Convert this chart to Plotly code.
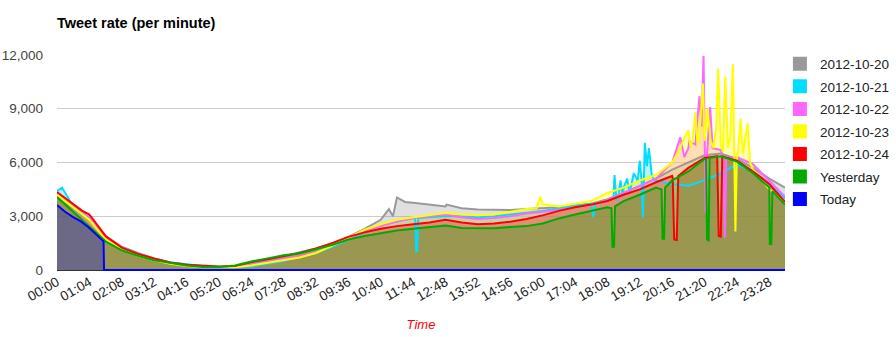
import plotly.graph_objects as go

# ---------------- data (tweets per minute) ----------------
MINUTES = [0, 32, 64, 96, 128, 160, 192, 224, 256, 288, 320, 352, 384, 416, 448,
           480, 512, 544, 576, 608, 640, 672, 704, 736, 768, 800, 832, 864, 896,
           928, 960, 992, 1024, 1056, 1088, 1120, 1152, 1184, 1216, 1248, 1280,
           1312, 1344, 1376, 1408, 1439]

D1020 = [4000, 3400, 2800, 1900, 1300, 950, 650, 420, 300, 200, 170, 200, 350, 550, 750,
         1000, 1200, 1500, 1850, 2300, 2800, 4050, 3750, 3650, 3550, 3450, 3380, 3350, 3350,
         3400, 3450, 3500, 3600, 3700, 3950, 4300, 4700, 5100, 5600, 6000, 6400,
         6500, 6200, 5700, 5100, 4600]
D1020_EXTRA = [(656, 3400), (664, 3000), (688, 3800), (770, 3650)]

D1021 = [4400, 3550, 2850, 1800, 1250, 900, 620, 420, 300, 220, 180, 160, 200, 350, 500,
         750, 950, 1300, 1700, 2100, 2500, 2700, 2900, 2950, 3000, 3000, 2950, 3000, 3100,
         3200, 3300, 3450, 3600, 3700, 3900, 4600, 5800, 5000, 4800, 4700, 5000,
         5400, 5900, 5500, 4800, 4000]
D1021_EXTRA = [(10, 4600), (708, 2850), (710, 1050), (712, 1050), (714, 2900),
               (1060, 2950), (1064, 3700), (1100, 4000), (1102, 5300), (1106, 3900),
               (1110, 4200), (1114, 5000), (1118, 4100), (1127, 5100), (1132, 4300),
               (1140, 5400), (1148, 5000), (1152, 6100), (1156, 4800), (1158, 2950),
               (1160, 5000), (1162, 7100), (1166, 5800), (1170, 6800), (1176, 5200)]

D1022 = [4200, 3600, 3000, 1800, 1200, 850, 600, 400, 250, 170, 150, 170, 300, 450, 600,
         780, 1000, 1350, 1750, 2150, 2450, 2700, 2900, 3000, 3100, 2950, 2850, 2900, 3000,
         3150, 3250, 3350, 3500, 3650, 3900, 4300, 4700, 5100, 6000, 6800, 8000,
         6700, 6300, 5900, 5000, 4100]
D1022_EXTRA = [(1232, 7400), (1240, 6300), (1250, 7200), (1262, 7000), (1266, 8500),
               (1270, 9700), (1274, 8000), (1278, 11950), (1282, 3200), (1285, 6500),
               (1291, 9100), (1296, 6800), (1317, 6300), (1320, 1800), (1323, 6200)]

D1023 = [4200, 3500, 2800, 1700, 1150, 800, 550, 350, 220, 150, 130, 150, 250, 400, 550,
         700, 950, 1350, 1800, 2250, 2550, 2800, 2950, 3050, 3180, 3100, 3050, 3100, 3250,
         3400, 3700, 3550, 3700, 3850, 4300, 4600, 5000, 5300, 6000, 7800, 7200,
         7000, 6500, 5600, 4500, 3800]
D1023_EXTRA = [(948, 3450), (955, 4100), (962, 3650), (1232, 6800), (1240, 7400),
               (1252, 6900), (1256, 7200), (1262, 8800), (1266, 7000), (1270, 7600),
               (1277, 10400), (1286, 9000), (1292, 7200), (1298, 6800), (1303, 8000),
               (1307, 11250), (1316, 6600), (1321, 10800), (1326, 6800), (1331, 7500),
               (1336, 11500), (1339, 6000), (1341, 2150), (1346, 6500), (1351, 8450),
               (1356, 6500), (1365, 8200), (1370, 6000)]

D1024 = [4350, 3700, 3100, 1900, 1250, 900, 640, 420, 300, 230, 200, 230, 450, 600, 780,
         950, 1200, 1500, 1850, 2100, 2300, 2450, 2550, 2650, 2800, 2650, 2550, 2600, 2700,
         2850, 3050, 3300, 3500, 3650, 3850, 4200, 4500, 4900, 5250, 5700, 6250,
         6400, 6100, 5500, 4800, 3800]
D1024_EXTRA = [(50, 3300), (1217, 5150), (1220, 1700), (1225, 1670), (1228, 5250),
               (1305, 6350), (1308, 1900), (1312, 1860), (1315, 6350)]

YESTERDAY = [4070, 3250, 2450, 1600, 1100, 800, 550, 380, 250, 170, 170, 250, 480, 650, 820,
             930, 1150, 1400, 1700, 1900, 2050, 2200, 2300, 2400, 2480, 2350, 2330, 2330, 2400,
             2450, 2600, 2880, 3100, 3300, 3500, 3850, 4200, 4600, 5000, 5500, 6200,
             6350, 6050, 5400, 4600, 3650]
YESTERDAY_EXTRA = [(1096, 3450), (1098, 1300), (1101, 1300), (1103, 3550),
                   (1195, 4500), (1197, 1750), (1200, 1750), (1202, 4600),
                   (1283, 6200), (1285, 1700), (1288, 1650), (1290, 6250),
                   (1407, 4650), (1409, 1450), (1412, 1450), (1414, 4400)]

TODAY_MIN = [0, 16, 32, 48, 64, 80, 92, 93, 1439]
TODAY = [3630, 3250, 2950, 2700, 2350, 1950, 1600, 0, 0]

SERIES_NAMES = ["2012-10-20", "2012-10-21", "2012-10-22", "2012-10-23",
                "2012-10-24", "Yesterday", "Today"]
COLORS = ["#999999", "#00DDFF", "#FF66FF", "#FFFF00", "#FF0000", "#00AA00", "#0000FF"]

TICK_MIN = [0, 64, 128, 192, 256, 320, 384, 448, 512, 576, 640, 704, 768, 832, 896,
            960, 1024, 1088, 1152, 1216, 1280, 1344, 1408]
TICK_LABELS = ["00:00", "01:04", "02:08", "03:12", "04:16", "05:20", "06:24", "07:28",
               "08:32", "09:36", "10:40", "11:44", "12:48", "13:52", "14:56", "16:00",
               "17:04", "18:08", "19:12", "20:16", "21:20", "22:24", "23:28"]
Y_TICKS = [0, 3000, 6000, 9000, 12000]


def merged(base, extra):
    d = dict(zip(MINUTES, base))
    d.update(dict(extra))
    xs = sorted(d)
    return xs, [d[m] for m in xs]


series = [merged(D1020, D1020_EXTRA), merged(D1021, D1021_EXTRA),
          merged(D1022, D1022_EXTRA), merged(D1023, D1023_EXTRA),
          merged(D1024, D1024_EXTRA), merged(YESTERDAY, YESTERDAY_EXTRA),
          (TODAY_MIN, TODAY)]


def rgba(hexc, a):
    h = hexc.lstrip("#")
    return "rgba(%d,%d,%d,%s)" % (int(h[0:2], 16), int(h[2:4], 16), int(h[4:6], 16), a)


fig = go.Figure()
# areas first (all areas under all lines)
for (xs, ys), c in zip(series, COLORS):
    fig.add_trace(go.Scatter(x=xs, y=ys, mode="lines", line=dict(width=0, color=c),
                             fill="tozeroy", fillcolor=rgba(c, 0.3),
                             showlegend=False, hoverinfo="skip"))
# lines
for (xs, ys), c, n in zip(series, COLORS, SERIES_NAMES):
    fig.add_trace(go.Scatter(x=xs, y=ys, mode="lines", line=dict(width=2, color=c),
                             name=n, showlegend=False))
# legend entries
for c, n in zip(COLORS, SERIES_NAMES):
    fig.add_trace(go.Scatter(x=[None], y=[None], mode="markers",
                             marker=dict(symbol="square", size=14, color=c),
                             name=n, legendgroup=n, showlegend=True))

FONT = "Liberation Sans, Arial, sans-serif"
fig.update_layout(
    width=896, height=337, autosize=False,
    margin=dict(l=57, r=111, t=55, b=66, pad=0, autoexpand=False),
    paper_bgcolor="white", plot_bgcolor="white",
    font=dict(family=FONT, size=13, color="#222222"),
    title=dict(text="<b>Tweet rate (per minute)</b>", x=57 / 896, xanchor="left",
               y=1 - 23 / 337, yanchor="middle", yref="container",
               font=dict(family=FONT, size=14.5, color="#000000")),
    xaxis=dict(range=[0, 1439], tickmode="array", tickvals=TICK_MIN, ticktext=TICK_LABELS,
               tickangle=-30, showgrid=False, zeroline=False, showline=False, ticks="",
               automargin=False,
               tickfont=dict(family=FONT, size=13.5, color="#222222"),
               title=dict(text="<i>Time</i>", standoff=16,
                          font=dict(family=FONT, size=13, color="#FF0000"))),
    yaxis=dict(range=[-55, 12000], tickmode="array", tickvals=Y_TICKS, tickformat=",",
               showgrid=True, gridcolor="#cccccc", gridwidth=1, zeroline=True,
               zerolinecolor="#333333", zerolinewidth=1, ticks="", ticklabelstandoff=13,
               automargin=False,
               tickfont=dict(family=FONT, size=13.5, color="#444444")),
    legend=dict(x=0.993, xanchor="left", y=1.03, yanchor="top", tracegroupgap=2,
                font=dict(family=FONT, size=13.5, color="#222222"),
                bgcolor="rgba(0,0,0,0)", borderwidth=0),
    showlegend=True,
)

fig.write_html("out.html")
